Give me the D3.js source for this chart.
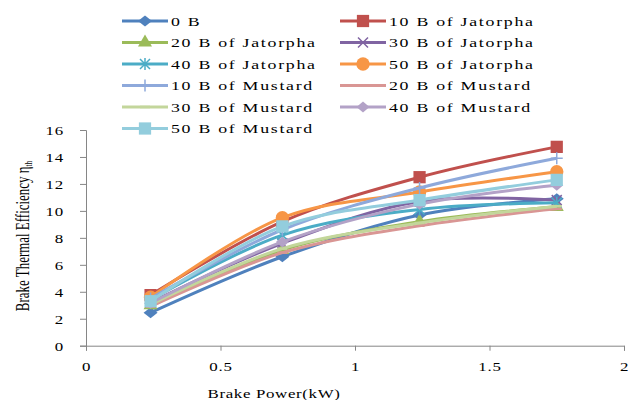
<!DOCTYPE html>
<html><head><meta charset="utf-8">
<script src="https://cdn.jsdelivr.net/npm/d3@7"></script>
<style>
html,body{margin:0;padding:0;background:#fff;}
text{font-family:"Liberation Serif","Times New Roman",serif;fill:#000;}
</style></head>
<body><svg id="c" width="629" height="400"></svg>
<script>
const xValues = [0.24, 0.73, 1.24, 1.75];
const seriesNames = ["0 B","10 B of Jatorpha","20 B of Jatorpha","30 B of Jatorpha","40 B of Jatorpha","50 B of Jatorpha","10 B of Mustard","20 B of Mustard","30 B of Mustard","40 B of Mustard","50 B of Mustard"];
const s0B     = [2.45, 6.6, 9.7, 10.9];
const s10BJat = [3.75, 9.2, 12.5, 14.75];
const s20BJat = [3.0, 7.1, 9.2, 10.3];
const s30BJat = [3.2, 7.6, 10.7, 10.8];
const s40BJat = [3.4, 8.2, 10.1, 10.6];
const s50BJat = [3.6, 9.5, 11.4, 12.9];
const s10BMus = [3.5, 8.6, 11.7, 13.9];
const s20BMus = [2.9, 6.9, 8.9, 10.15];
const s30BMus = [3.05, 7.2, 9.1, 10.35];
const s40BMus = [3.15, 7.7, 10.5, 11.9];
const s50BMus = [3.3, 8.85, 10.8, 12.3];
const seriesValues = [s0B,s10BJat,s20BJat,s30BJat,s40BJat,s50BJat,s10BMus,s20BMus,s30BMus,s40BMus,s50BMus];
const xTicks = [0, 0.5, 1, 1.5, 2];
const yTicks = [0, 2, 4, 6, 8, 10, 12, 14, 16];

const colors = ["#4F81BD","#C0504D","#9BBB59","#8064A2","#4BACC6","#F79646","#8EA9DB","#D99694","#C3D69B","#B3A2C7","#93CDDD"];
const markers = ["diamond","square","triangle","x","asterisk","circle","plus","dash","dash","diamond2","square"];

const svg = d3.select("#c");
const x = d3.scaleLinear().domain([0,2]).range([86,624]);
const y = d3.scaleLinear().domain([0,16]).range([345.7,130]);

// axes
const axisColor = "#868686";
const gx = svg.append("g").attr("transform","translate(0,345.7)")
  .call(d3.axisBottom(x).tickValues(xTicks).tickSize(5).tickFormat(d=>String(d)));
const gy = svg.append("g").attr("transform","translate(86,0)")
  .call(d3.axisLeft(y).tickValues(yTicks).tickSize(6).tickFormat(d=>String(d)));
[gx,gy].forEach(g=>{
  g.select(".domain").attr("stroke",axisColor).attr("stroke-width",1);
  g.selectAll(".tick line").attr("stroke",axisColor);
  g.selectAll(".tick text").remove();
});
// tick labels (stretched serif)
gx.selectAll(".tick").append("text")
  .attr("transform","translate(0,25) scale(1.3,1)")
  .attr("text-anchor","middle").style("font-size","13px").style("letter-spacing","0.6px")
  .text(d=>String(d));
gy.selectAll(".tick").append("text")
  .attr("transform","translate(-22,4.5) scale(1.3,1)")
  .attr("text-anchor","end").style("font-size","13px").style("letter-spacing","0.6px")
  .text(d=>String(d));

// axis titles
svg.append("text").attr("transform","translate(274,398) scale(1.3,1)")
  .attr("text-anchor","middle").style("font-size","13px").style("letter-spacing","0.5px")
  .text("Brake Power(kW)");
const yt = svg.append("text").attr("transform","translate(29,236) rotate(-90) scale(0.72,1)")
  .attr("text-anchor","middle").style("font-size","18px");
yt.append("tspan").text("Brake Thermal Efficiency η");
yt.append("tspan").attr("dy","3").style("font-size","10px").text("th");

function drawMarker(g, type, color, cx, cy){
  const sym = (t,s)=>g.append("path").attr("d",d3.symbol().type(t).size(s)()).attr("transform",`translate(${cx},${cy})`).attr("fill",color);
  if(type==="diamond"||type==="diamond2"){
    const w = type==="diamond"?7:6.5, h = type==="diamond"?5.5:5.5;
    g.append("path").attr("d",`M${cx-w},${cy}L${cx},${cy-h}L${cx+w},${cy}L${cx},${cy+h}Z`).attr("fill",color);
  }
  else if(type==="square") sym(d3.symbolSquare,150);
  else if(type==="triangle") sym(d3.symbolTriangle,85);
  else if(type==="circle") sym(d3.symbolCircle,140);
  else if(type==="x"){
    const r=5;
    g.append("path").attr("d",`M${cx-r},${cy-r}L${cx+r},${cy+r}M${cx-r},${cy+r}L${cx+r},${cy-r}`).attr("stroke",color).attr("stroke-width",1.5).attr("fill","none");
  } else if(type==="asterisk"){
    const r=5;
    g.append("path").attr("d",`M${cx-r},${cy-r}L${cx+r},${cy+r}M${cx-r},${cy+r}L${cx+r},${cy-r}M${cx},${cy-r-1}L${cx},${cy+r+1}`).attr("stroke",color).attr("stroke-width",1.5).attr("fill","none");
  } else if(type==="plus"){
    const r=6;
    g.append("path").attr("d",`M${cx-r},${cy}L${cx+r},${cy}M${cx},${cy-r}L${cx},${cy+r}`).attr("stroke",color).attr("stroke-width",1.5).attr("fill","none");
  } else if(type==="dash"){
    g.append("path").attr("d",`M${cx-5},${cy}L${cx+5},${cy}`).attr("stroke",color).attr("stroke-width",2.5).attr("fill","none");
  }
}

// series
const line = d3.line().x(d=>x(d[0])).y(d=>y(d[1])).curve(d3.curveCatmullRom.alpha(0.5));
const plot = svg.append("g");
seriesValues.forEach((vals,i)=>{
  const g = plot.append("g");
  const pts = vals.map((v,j)=>[xValues[j],v]);
  g.append("path").attr("d",line(pts)).attr("fill","none").attr("stroke",colors[i]).attr("stroke-width",3).attr("stroke-linejoin","round");
  pts.forEach(p=>drawMarker(g,markers[i],colors[i],x(p[0]),y(p[1])));
});

// legend
const leg = svg.append("g");
const colX = [122, 340];
const rowY = [21, 42.5, 64, 85.5, 107, 128.5];
seriesNames.forEach((name,i)=>{
  const cx = colX[i%2], cy = rowY[Math.floor(i/2)];
  const g = leg.append("g");
  g.append("line").attr("x1",cx).attr("x2",cx+46).attr("y1",cy).attr("y2",cy).attr("stroke",colors[i]).attr("stroke-width",3);
  drawMarker(g,markers[i],colors[i],cx+23,cy);
  g.append("text").attr("transform",`translate(${cx+49},${cy+4.5}) scale(1.32,1)`)
    .style("font-size","13.5px").style("letter-spacing","1.3px").text(name);
});
</script></body></html>
